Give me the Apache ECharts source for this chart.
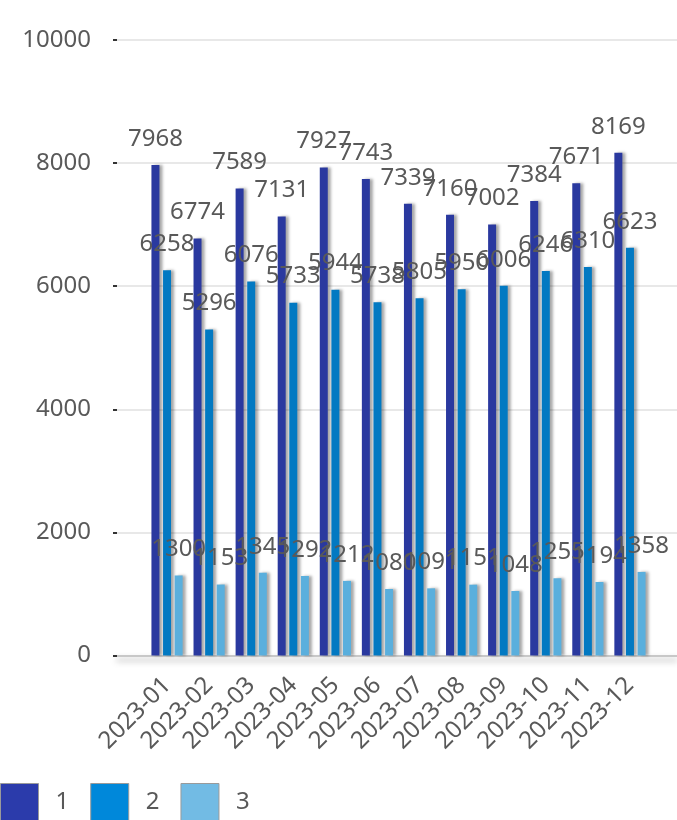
<!DOCTYPE html>
<html>
<head>
<meta charset="utf-8">
<script src="https://cdn.jsdelivr.net/npm/echarts@6/dist/echarts.min.js"></script>
<style>
html,body{margin:0;padding:0;background:#fff;}
#chart{width:677px;height:820px;}
</style>
</head>
<body>
<div id="chart"></div>
<script>
const categories = ['2023-01','2023-02','2023-03','2023-04','2023-05','2023-06','2023-07','2023-08','2023-09','2023-10','2023-11','2023-12'];
const seriesNames = ['1','2','3'];
const series1 = [7968,6774,7589,7131,7927,7743,7339,7160,7002,7384,7671,8169];
const series2 = [6258,5296,6076,5733,5944,5738,5805,5950,6006,6246,6310,6623];
const series3 = [1300,1153,1345,1292,1212,1080,1091,1151,1048,1255,1194,1358];
const yTicks = [0,2000,4000,6000,8000,10000];

const barColors = ['#2a399f','#0279c2','#5aafdd'];
const legendColors = ['#2b3bab','#0088da','#72bbe4'];
const txt = '#595959';
const font = 'Noto Sans';

const chart = echarts.init(document.getElementById('chart'), null, {renderer:'canvas'});

function bar(name, data, i){
  return {
    name: name, type:'bar', xAxisIndex:1, yAxisIndex:1,
    data: data, barWidth: 8, barGap: '45%',
    itemStyle:{color:barColors[i], shadowColor:'rgba(0,0,0,0.35)', shadowBlur:3, shadowOffsetX:3, shadowOffsetY:0},
    label:{show:true, position:'top', distance:14, color:txt, fontSize:24, fontFamily:font}
  };
}

chart.setOption({
  animation:false,
  backgroundColor:'#fff',
  textStyle:{fontFamily:font},
  legend:{
    left:0, top:783, padding:0, itemWidth:38, itemHeight:38, itemGap:21, icon:'rect',
    textStyle:{color:txt, fontSize:24, fontFamily:font, padding:[0,0,0,12]},
    data: seriesNames.map((n,i)=>({name:n, itemStyle:{color:legendColors[i], borderColor:'#9a9a9a', borderWidth:1}}))
  },
  grid:[
    {left:117, right:0, top:40, bottom:164.5},
    {left:146, right:26, top:40, bottom:164.5}
  ],
  xAxis:[
    {type:'category', gridIndex:0, data:categories,
      axisLine:{show:true, lineStyle:{color:'#c8c8c8', width:2, shadowColor:'rgba(0,0,0,0.35)', shadowBlur:6, shadowOffsetY:4}},
      axisTick:{show:false}, axisLabel:{show:false}, splitLine:{show:false}},
    {type:'category', gridIndex:1, data:categories,
      axisLine:{show:false}, axisTick:{show:false}, splitLine:{show:false},
      axisLabel:{rotate:45, margin:26, color:txt, fontSize:24, fontFamily:font, interval:0}}
  ],
  yAxis:[
    {type:'value', gridIndex:0, min:yTicks[0], max:yTicks[yTicks.length-1], interval:2000,
      axisLine:{show:false},
      axisTick:{show:true, length:4, lineStyle:{color:'#333', width:2}},
      axisLabel:{margin:26, color:txt, fontSize:24, fontFamily:font, formatter:(v)=>String(v)},
      splitLine:{show:true, lineStyle:{color:'#e0e0e0', width:1.5}}},
    {type:'value', gridIndex:1, min:yTicks[0], max:yTicks[yTicks.length-1], interval:2000,
      show:false, splitLine:{show:false}}
  ],
  series:[bar(seriesNames[0],series1,0), bar(seriesNames[1],series2,1), bar(seriesNames[2],series3,2)]
});
</script>
</body>
</html>
